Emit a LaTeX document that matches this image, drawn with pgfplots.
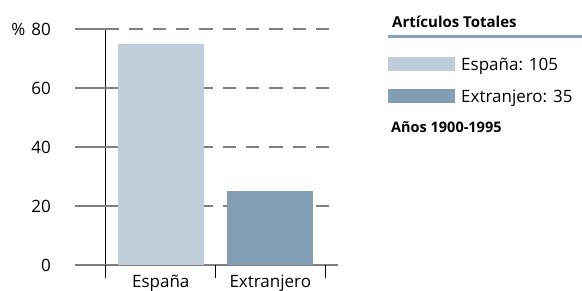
\documentclass[border=0pt]{standalone}
\usepackage{pgfplots}
\pgfplotsset{compat=1.18}
\usepackage{fontspec}
\setmainfont{Open Sans}
\definecolor{lightbar}{HTML}{C0CDDB}
\definecolor{darkbar}{HTML}{839DB5}
\definecolor{gridgray}{HTML}{7F7F7F}
\definecolor{legline}{HTML}{8AA1B9}
\begin{document}
\begin{tikzpicture}
\useasboundingbox (-106pt,-25pt) rectangle (476pt,265pt);
\begin{axis}[
  scale only axis, width=232pt, height=236pt,
  xmin=-0.5, xmax=1.618, ymin=0, ymax=80,
  axis x line=bottom, axis y line=left,
  x axis line style={gridgray, line width=1.3pt, -},
  y axis line style={black, line width=1pt, -},
  tick align=outside, major tick length=0pt,
  ytick={0,20,40,60,80}, yticklabels={0,20,40,60,{\%\hspace{6pt}80}},
  xtick={0,1}, xticklabels={España,Extranjero},
  tick style={draw=none},
  tick label style={font=\fontsize{17}{20}\selectfont},
  /pgf/number format/assume math mode=true,
  yticklabel style={anchor=east, inner sep=0pt, xshift=-55pt},
  xticklabel style={anchor=base, inner sep=0pt, yshift=-22pt},
  legend style={at={(axis description cs:1.2155,0.8825)}, anchor=north west,
    draw=none, fill=none, inner sep=0pt, row sep=14pt,
    font=\fontsize{17}{20}\selectfont,
    nodes={inner sep=0pt, text height=12pt, text depth=4.5pt},
    /tikz/every odd column/.append style={column sep=6pt}},
  legend cell align=left,
  clip=false,
]
% grid lines (solid stub left of the y axis, dashed across the plot)
\pgfplotsinvokeforeach{0,20,40,60,80}{
  \draw[gridgray, line width=1.3pt] (axis cs:-0.5,#1) -- ++(-31pt,0pt);
}
\pgfplotsinvokeforeach{20,40,60,80}{
  \draw[gridgray, line width=1.3pt, dash pattern=on 13.33pt off 10pt] (axis cs:-0.5,#1) -- (axis cs:1.618,#1);
}
% category separators below the baseline
\pgfplotsinvokeforeach{-0.5,0.5,1.5}{
  \draw[black, line width=1pt] (axis cs:#1,0) -- ++(0pt,-12.5pt);
}
\addplot[ybar, bar width=86pt, bar shift=0pt, fill=lightbar, draw=none,
  legend image code/.code={\fill[lightbar] (0pt,-4.3pt) rectangle (67pt,9.7pt);}]
  coordinates {(0,75)};
\addlegendentry{España: 105}
\addplot[ybar, bar width=86pt, bar shift=0pt, fill=darkbar, draw=none,
  legend image code/.code={\fill[darkbar] (0pt,-4.3pt) rectangle (67pt,9.7pt);}]
  coordinates {(1,25)};
\addlegendentry{Extranjero: 35}
\end{axis}
\node[anchor=base west, inner sep=0pt, font=\fontsize{15}{18}\selectfont\bfseries] at (286pt,237pt) {Artículos Totales};
\draw[legline, line width=3pt] (282pt,228.5pt) -- (476pt,228.5pt);
\node[anchor=base west, inner sep=0pt, font=\fontsize{14.5}{17}\selectfont\bfseries] at (285pt,133pt) {Años 1900-1995};
\end{tikzpicture}
\end{document}
